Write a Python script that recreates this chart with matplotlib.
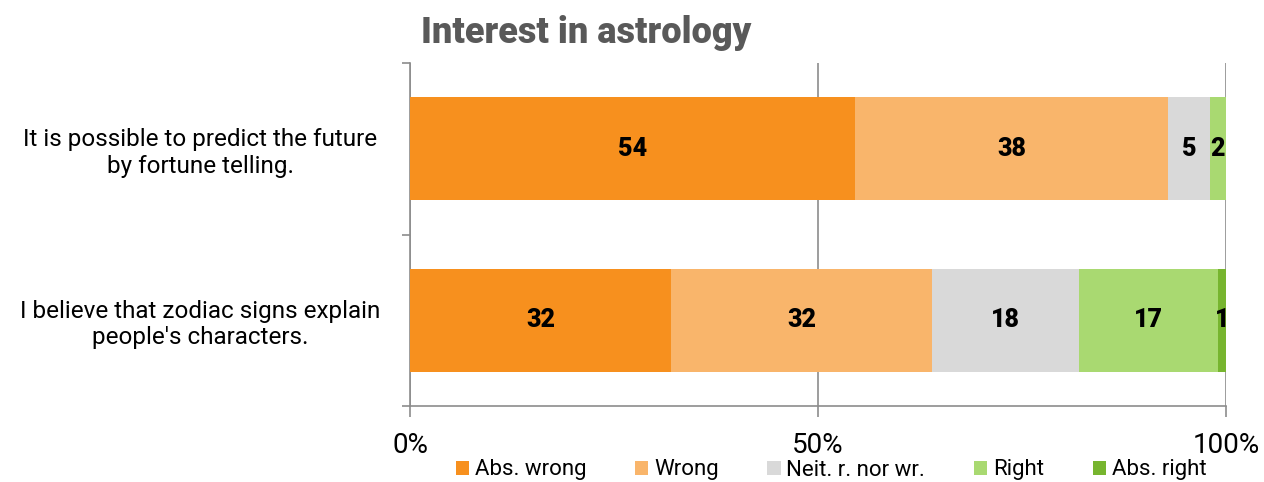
import matplotlib
matplotlib.use("Agg")
import matplotlib.pyplot as plt
import numpy as np
from matplotlib.patches import Patch

categories = ["It is possible to predict the future\nby fortune telling.",
              "I believe that zodiac signs explain\npeople's characters."]
series_names = ["Abs. wrong", "Wrong", "Neit. r. nor wr.", "Right", "Abs. right"]
abs_wrong = [54, 32]
wrong = [38, 32]
neither = [5, 18]
right = [2, 17]
abs_right = [0, 1]
colors = ["#F7901E", "#F9B56B", "#D9D9D9", "#A9D971", "#77B52F"]
xticks = [0, 50, 100]
xticklabels = ["0%", "50%", "100%"]
title = "Interest in astrology"

FONT = ["Roboto", "DejaVu Sans"]
plt.rcParams["font.family"] = FONT

data = np.array([abs_wrong, wrong, neither, right, abs_right], dtype=float)
totals = data.sum(axis=0)
pct = data / totals * 100

fig = plt.figure(figsize=(12.64, 4.82), dpi=100)
ax = fig.add_axes([410/1264, 1 - 406/482, (1226-410)/1264, (406-63)/482])

ypos = np.arange(len(categories))
left = np.zeros(len(categories))
for i, name in enumerate(series_names):
    ax.barh(ypos, pct[i], left=left, height=0.6, color=colors[i], label=name, zorder=3)
    for j in range(len(categories)):
        if data[i, j] > 0:
            ax.text(left[j] + pct[i, j] / 2, ypos[j], f"{int(data[i, j])}",
                    ha="center", va="center", fontsize=18, fontweight="black",
                    color="black", zorder=4)
    left += pct[i]

ax.set_xlim(0, 100)
ax.set_ylim(len(categories) - 0.5, -0.5)
ax.set_xticks(xticks)
ax.set_xticklabels(xticklabels, fontsize=20)
ax.set_yticks(ypos)
ax.set_yticklabels(categories, fontsize=17.5, ha="center", multialignment="center",
                   linespacing=1.2)
ax.tick_params(axis="y", which="major", length=0, pad=151)
ax.set_yticks([-0.5, 0.5, 1.5], minor=True)
ax.tick_params(axis="y", which="minor", length=6, color="#8c8c8c", width=1.2)
ax.tick_params(axis="x", length=8, color="#8c8c8c", width=1.2, pad=11)
ax.xaxis.grid(True, color="#8c8c8c", linewidth=1.2, zorder=0)
for s in ["top", "right"]:
    ax.spines[s].set_visible(False)
for s in ["left", "bottom"]:
    ax.spines[s].set_color("#8c8c8c")
    ax.spines[s].set_linewidth(1.2)

fig.text(421/1264, 1 - 33/482, title, ha="left", va="center", fontsize=26,
         fontweight="black", color="#595959")

handles = [Patch(facecolor=c, label=n) for c, n in zip(colors, series_names)]
fig.legend(handles=handles, loc="center", bbox_to_anchor=(831/1264, 1 - 470/482),
           ncol=5, frameon=False, fontsize=16, handlelength=0.6, handleheight=0.6,
           handletextpad=0.25, columnspacing=2.2, borderaxespad=0)

fig.savefig("out.png", dpi=100)
